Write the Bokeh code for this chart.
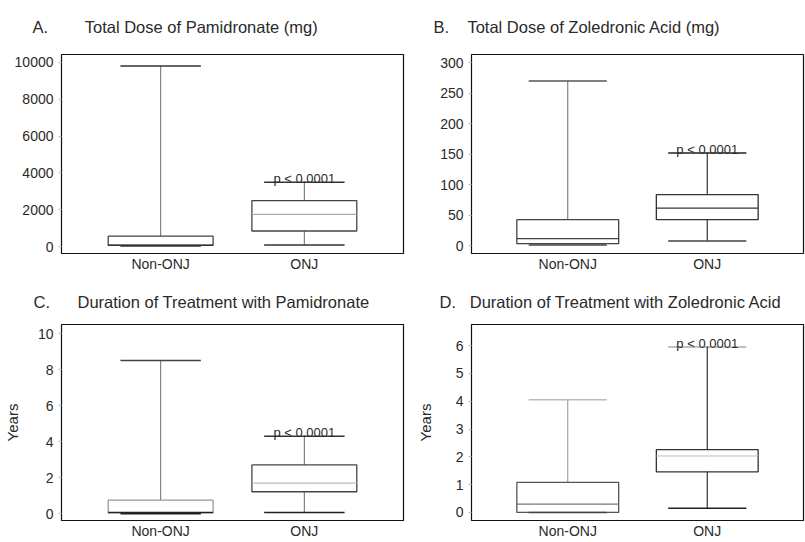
from bokeh.plotting import figure
from bokeh.models import ColumnDataSource, FactorRange, Range1d, FixedTicker
from bokeh.layouts import column, row
from bokeh.transform import dodge
from bokeh.core.properties import value
from bokeh.embed import file_html
from bokeh.resources import INLINE

# ---------------- data ----------------
categories = ["Non-ONJ", "ONJ"]

pam_dose_min = [40, 90]
pam_dose_q1 = [70, 850]
pam_dose_median = [90, 1750]
pam_dose_q3 = [570, 2500]
pam_dose_max = [9800, 3500]
pam_dose_ticks = [0, 2000, 4000, 6000, 8000, 10000]

zol_dose_min = [1.6, 8]
zol_dose_q1 = [3.7, 43]
zol_dose_median = [12, 62]
zol_dose_q3 = [43, 84]
zol_dose_max = [270, 152]
zol_dose_ticks = [0, 50, 100, 150, 200, 250, 300]

pam_dur_min = [0.0, 0.07]
pam_dur_q1 = [0.03, 1.22]
pam_dur_median = [0.08, 1.70]
pam_dur_q3 = [0.75, 2.71]
pam_dur_max = [8.5, 4.3]
pam_dur_ticks = [0, 2, 4, 6, 8, 10]

zol_dur_min = [0.0, 0.15]
zol_dur_q1 = [0.0, 1.46]
zol_dur_median = [0.30, 2.03]
zol_dur_q3 = [1.08, 2.26]
zol_dur_max = [4.05, 5.95]
zol_dur_ticks = [0, 1, 2, 3, 4, 5, 6]

p_value_text = "p < 0.0001"

FONT = "Liberation Sans"
TXT = "#2a2a2a"
NB = "\u00a0"


def make_panel(letter, gap, title, mins, q1s, meds, q3s, maxs, ticks, yr, style,
               width, height, bl, br, bt, bb, title_offset, title_standoff,
               ylabel=None, ylabel_standoff=10):
    p = figure(width=width, height=height, output_backend="svg", toolbar_location=None,
               x_range=FactorRange(factors=categories, range_padding=0.19,
                                   range_padding_units="absolute"),
               y_range=Range1d(*yr),
               min_border_left=bl, min_border_right=br, min_border_top=bt,
               min_border_bottom=bb,
               title=letter + NB * gap + title)
    p.background_fill_color = "white"
    p.border_fill_color = "white"
    p.outline_line_color = "#111111"
    p.outline_line_width = 1.2
    p.xgrid.visible = False
    p.ygrid.visible = False

    p.title.text_font = FONT
    p.title.text_font_size = "16.5px"
    p.title.text_font_style = "normal"
    p.title.text_color = TXT
    p.title.align = "left"
    p.title.vertical_align = "top"
    p.title.offset = title_offset
    p.title.standoff = title_standoff

    src = ColumnDataSource(dict(cat=categories, lo=mins, q1=q1s, med=meds, q3=q3s, hi=maxs,
                                wc=style["whisker"], chc=style["cap_hi"], clc=style["cap_lo"],
                                bc=style["box"], mc=style["median"]))
    box_half = 0.365
    cap_half = 0.28
    # whiskers
    p.segment(x0="cat", y0="q3", x1="cat", y1="hi", source=src, line_color="wc", line_width=1.1)
    p.segment(x0="cat", y0="lo", x1="cat", y1="q1", source=src, line_color="wc", line_width=1.1)
    # box
    p.vbar(x="cat", width=2 * box_half, top="q3", bottom="q1", source=src,
           fill_color="white", line_color="bc", line_width=1.3)
    # median
    p.segment(x0=dodge("cat", -box_half, range=p.x_range), y0="med",
              x1=dodge("cat", box_half, range=p.x_range), y1="med",
              source=src, line_color="mc", line_width=1.2)
    # caps
    p.segment(x0=dodge("cat", -cap_half, range=p.x_range), y0="hi",
              x1=dodge("cat", cap_half, range=p.x_range), y1="hi",
              source=src, line_color="chc", line_width=1.5)
    p.segment(x0=dodge("cat", -cap_half, range=p.x_range), y0="lo",
              x1=dodge("cat", cap_half, range=p.x_range), y1="lo",
              source=src, line_color="clc", line_width=1.5)
    # p-value above ONJ upper cap
    p.text(x=[categories[1]], y=[maxs[1]], text=[p_value_text], text_align="center",
           text_baseline="bottom", y_offset=4, text_font_size="13px",
           text_font=value(FONT), text_color=TXT)

    # axes
    p.xaxis.axis_line_color = None
    p.xaxis.major_tick_line_color = None
    p.xaxis.major_tick_in = 0
    p.xaxis.major_tick_out = 0
    p.xaxis.minor_tick_line_color = None
    p.xaxis.major_label_text_font_size = "14px"
    p.xaxis.major_label_text_font = FONT
    p.xaxis.major_label_text_color = TXT
    p.xaxis.major_label_standoff = 2

    p.yaxis.ticker = FixedTicker(ticks=ticks)
    p.yaxis.axis_line_color = None
    p.yaxis.major_tick_in = 0
    p.yaxis.major_tick_out = 3
    p.yaxis.major_tick_line_color = "#bbbbbb"
    p.yaxis.minor_tick_line_color = None
    p.yaxis.major_label_text_font_size = "14px"
    p.yaxis.major_label_text_font = FONT
    p.yaxis.major_label_text_color = TXT
    p.yaxis.major_label_standoff = 5
    if ylabel:
        p.yaxis.axis_label = ylabel
        p.yaxis.axis_label_text_font_size = "15px"
        p.yaxis.axis_label_text_font = FONT
        p.yaxis.axis_label_text_font_style = "normal"
        p.yaxis.axis_label_text_color = TXT
        p.yaxis.axis_label_standoff = ylabel_standoff
    return p


style_a = dict(whisker=["#777777", "#777777"], cap_hi=["#333333", "#333333"],
               cap_lo=["#333333", "#333333"], box=["#444444", "#444444"],
               median=["#222222", "#aaaaaa"])
style_b = dict(whisker=["#777777", "#222222"], cap_hi=["#555555", "#222222"],
               cap_lo=["#444444", "#444444"], box=["#444444", "#333333"],
               median=["#444444", "#333333"])
style_c = dict(whisker=["#777777", "#777777"], cap_hi=["#444444", "#333333"],
               cap_lo=["#222222", "#222222"], box=["#999999", "#444444"],
               median=["#222222", "#bbbbbb"])
style_d = dict(whisker=["#999999", "#222222"], cap_hi=["#bbbbbb", "#aaaaaa"],
               cap_lo=["#444444", "#222222"], box=["#555555", "#333333"],
               median=["#777777", "#bbbbbb"])

pA = make_panel("A.", 8, "Total Dose of Pamidronate (mg)", pam_dose_min, pam_dose_q1,
                pam_dose_median, pam_dose_q3, pam_dose_max, pam_dose_ticks,
                (-372, 10425), style_a, 408, 274, 61, 5, 54, 17,
                title_offset=-29, title_standoff=34)
pB = make_panel("B.", 4, "Total Dose of Zoledronic Acid (mg)", zol_dose_min, zol_dose_q1,
                zol_dose_median, zol_dose_q3, zol_dose_max, zol_dose_ticks,
                (-12.4, 313.3), style_b, 397, 274, 63, 2, 54, 17,
                title_offset=-38, title_standoff=34)
pC = make_panel("C.", 6, "Duration of Treatment with Pamidronate", pam_dur_min, pam_dur_q1,
                pam_dur_median, pam_dur_q3, pam_dur_max, pam_dur_ticks,
                (-0.375, 10.5), style_c, 408, 267, 61, 5, 50, 17,
                title_offset=-28, title_standoff=24,
                ylabel="Years", ylabel_standoff=14)
pD = make_panel("D.", 3, "Duration of Treatment with Zoledronic Acid", zol_dur_min, zol_dur_q1,
                zol_dur_median, zol_dur_q3, zol_dur_max, zol_dur_ticks,
                (-0.29, 6.76), style_d, 397, 267, 63, 2, 50, 17,
                title_offset=-32, title_standoff=24,
                ylabel="Years", ylabel_standoff=19)

layout = column(row(pA, pB), row(pC, pD))
open("out.html", "w").write(file_html(layout, INLINE))
